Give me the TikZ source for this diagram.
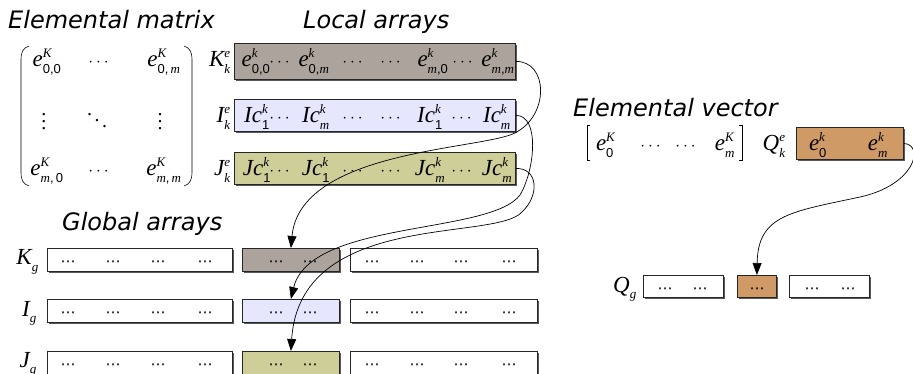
\documentclass[tikz,border=0pt]{standalone}
\usepackage{fontspec}
\usepackage{amsmath}
\setmainfont{Liberation Serif}
\newfontfamily\headfont{DejaVu Sans}
\newfontfamily\digfont{Liberation Sans}
\usetikzlibrary{arrows.meta,shadows}

\definecolor{kfill}{RGB}{172,164,156}
\definecolor{ifill}{RGB}{230,230,255}
\definecolor{jfill}{RGB}{206,206,153}
\definecolor{qfill}{RGB}{207,154,102}

% symbol with stacked superscript and subscript
\newcommand\baselt[1]{\mbox{\fontsize{23}{27}\selectfont\itshape #1}}
\newcommand\smalltx[1]{\mbox{\fontsize{13}{15}\selectfont #1}}
\newcommand\xit[1]{\textit{#1}}
\newcommand\xdg[1]{{\digfont #1}}
\newcommand\mysym[3]{$\baselt{#1}^{\smalltx{#2}}_{\smalltx{#3}}$}
\newcommand\dts{{\fontsize{18}{20}\selectfont$\cdots$}}
\newcommand\sdts{{\headfont\fontsize{15}{17}\selectfont ⋯}}
% larger vertical and diagonal dots for the matrix
\newcommand\bigvdots{\vbox{\baselineskip7pt\lineskiplimit0pt\kern2pt\hbox{.}\hbox{.}\hbox{.}}}
\newcommand\bigddots{\hbox{\raisebox{12pt}{.}\kern2.5pt\raisebox{6pt}{.}\kern2.5pt\raisebox{0pt}{.}}}

\tikzset{
  cell/.style={draw=black!85, line width=0.8pt, inner sep=0pt, anchor=north west,
    drop shadow={shadow xshift=2pt, shadow yshift=-2pt, fill=black!65, opacity=1}},
  txt/.style={inner sep=0pt, anchor=base, font=\fontsize{23}{27}\selectfont},
  head/.style={inner sep=0pt, anchor=base west, font=\headfont\itshape\fontsize{24}{28}\selectfont},
  conn/.style={line width=0.7pt, -{Triangle[length=12pt,width=9pt]}},
  brk/.style={line width=0.6pt}
}

\begin{document}
\begin{tikzpicture}[x=1pt,y=-1pt]
\useasboundingbox (0,0) rectangle (913,374);

% headings
\node[head] (hmat) at (8,29) {Elemental matrix};
\node[head] (hloc) at (303,29) {Local arrays};
\node[head] (hglob) at (62,230) {Global arrays};
\node[head] (hvec) at (573,117) {Elemental vector};

% elemental matrix
\draw[brk] (29,46) .. controls (23,48) and (21,52) .. (21,60) -- (21,172) .. controls (21,180) and (23,184) .. (29,186);
\draw[brk] (184,46) .. controls (190,48) and (192,52) .. (192,60) -- (192,172) .. controls (192,180) and (190,184) .. (184,186);
\node[txt] (m11) at (47,67) {\mysym{e}{\xit{K}}{\xdg{0,0}}};
\node[txt] (m12) at (100,67) {\dts};
\node[txt] (m13) at (164,67) {\mysym{e}{\xit{K}}{\xdg{0,}\,\xit{m}}};
\node[inner sep=0pt, font=\fontsize{20}{24}\selectfont] (m21) at (44,121) {\bigvdots};
\node[inner sep=0pt, font=\fontsize{20}{24}\selectfont] (m22) at (97,121) {\bigddots};
\node[inner sep=0pt, font=\fontsize{20}{24}\selectfont] (m23) at (160,121) {\bigvdots};
\node[txt] (m31) at (47,176) {\mysym{e}{\xit{K}}{\xit{m}\xdg{,}\,\xdg{0}}};
\node[txt] (m32) at (100,176) {\dts};
\node[txt] (m33) at (164,176) {\mysym{e}{\xit{K}}{\xit{m}\xdg{,}\,\xit{m}}};

% local array labels
\node[txt, anchor=base east] (lk) at (231,67) {\mysym{K}{\xit{e}}{\xit{k}}};
\node[txt, anchor=base east] (li) at (231,123) {\mysym{I}{\xit{e}}{\xit{k}}};
\node[txt, anchor=base east] (lj) at (231,176) {\mysym{J}{\xit{e}}{\xit{k}}};

% local arrays
\node[cell, fill=kfill, minimum width=281pt, minimum height=36pt] (Kl) at (234,43) {};
\node[cell, fill=ifill, minimum width=281pt, minimum height=32pt] (Il) at (234,99) {};
\node[cell, fill=jfill, minimum width=281pt, minimum height=32pt] (Jl) at (234,152) {};

\foreach \x/\t [count=\i] in {
  256/{\mysym{e}{\xit{k}}{\xdg{0,0}}}, 281/{\dts}, 314/{\mysym{e}{\xit{k}}{\xdg{0,}\xit{m}}},
  354/{\dts}, 392/{\dts}, 433/{\mysym{e}{\xit{k}}{\xit{m}\xdg{,0}}}, 464/{\dts},
  498/{\mysym{e}{\xit{k}}{\xit{m}\xdg{,}\xit{m}}}}
  \node[txt] (kl\i) at (\x,67) {\t};
\foreach \x/\t [count=\i] in {
  257/{\mysym{Ic}{\xit{k}}{\xdg{1}}}, 281/{\dts}, 316/{\mysym{Ic}{\xit{k}}{\xit{m}}},
  354/{\dts}, 392/{\dts}, 430/{\mysym{Ic}{\xit{k}}{\xdg{1}}}, 463/{\dts},
  497/{\mysym{Ic}{\xit{k}}{\xit{m}}}}
  \node[txt] (il\i) at (\x,123) {\t};
\foreach \x/\t [count=\i] in {
  257/{\mysym{Jc}{\xit{k}}{\xdg{1}}}, 281/{\dts}, 316/{\mysym{Jc}{\xit{k}}{\xdg{1}}},
  354/{\dts}, 392/{\dts}, 430/{\mysym{Jc}{\xit{k}}{\xit{m}}}, 463/{\dts},
  497/{\mysym{Jc}{\xit{k}}{\xit{m}}}}
  \node[txt] (jl\i) at (\x,176) {\t};

% global arrays
\node[txt, anchor=base east] (gk) at (39,265) {\mysym{K}{}{\xit{g}}};
\node[txt, anchor=base east] (gi) at (37,316) {\mysym{I}{}{\xit{g}}};
\node[txt, anchor=base east] (gj) at (37,367) {\mysym{J}{}{\xit{g}}};

\foreach \r/\y/\c in {K/248/kfill, I/299/ifill, J/351/jfill} {
  \node[cell, fill=white, minimum width=185pt, minimum height=23pt] (\r ga) at (47,\y) {};
  \node[cell, fill=\c, minimum width=97pt, minimum height=23pt] (\r gc) at (242,\y) {};
  \node[cell, fill=white, minimum width=187pt, minimum height=23pt] (\r gb) at (350,\y) {};
  \foreach \x [count=\i] in {68,113,158,205}
    \node[inner sep=0pt] (\r da\i) at (\x,\y+16) {\sdts};
  \foreach \x [count=\i] in {276,310}
    \node[inner sep=0pt] (\r dc\i) at (\x,\y+16) {\sdts};
  \foreach \x [count=\i] in {372,417,461,509}
    \node[inner sep=0pt] (\r db\i) at (\x,\y+16) {\sdts};
}

% elemental vector
\draw[brk] (590,125) -- (587,125) -- (587,160) -- (590,160);
\draw[brk] (739,125) -- (742,125) -- (742,160) -- (739,160);
\node[txt] (v1) at (606,151) {\mysym{e}{\xit{K}}{\xdg{0}}};
\node[txt] (v2) at (652,151) {\dts};
\node[txt] (v3) at (687,151) {\dts};
\node[txt] (v4) at (725,151) {\mysym{e}{\xit{K}}{\xit{m}}};
\node[txt, anchor=base east] (lq) at (786,151) {\mysym{Q}{\xit{e}}{\xit{k}}};
\node[cell, fill=qfill, minimum width=107pt, minimum height=32pt] (Ql) at (796,127) {};
\node[txt] (q1) at (818,151) {\mysym{e}{\xit{k}}{\xdg{0}}};
\node[txt] (q2) at (878,151) {\mysym{e}{\xit{k}}{\xit{m}}};

% global vector
\node[txt, anchor=base east] (gq) at (637,292) {\mysym{Q}{}{\xit{g}}};
\node[cell, fill=white, minimum width=80pt, minimum height=22pt] (Qga) at (643,275) {};
\node[cell, fill=qfill, minimum width=39pt, minimum height=22pt] (Qgc) at (737,275) {};
\node[cell, fill=white, minimum width=80pt, minimum height=22pt] (Qgb) at (789,275) {};
\node[inner sep=0pt] (qd1) at (665,290.5) {\sdts};
\node[inner sep=0pt] (qd2) at (700,290.5) {\sdts};
\node[inner sep=0pt] (qd3) at (757,290.5) {\sdts};
\node[inner sep=0pt] (qd4) at (812,290.5) {\sdts};
\node[inner sep=0pt] (qd5) at (848,290.5) {\sdts};

% scatter connectors
\draw[conn] (Kl.east) .. controls (548,61) and (550,115) .. (515,133)
  .. controls (480,150) and (300,150) .. (Kgc.north);
\draw[conn] (Il.east) .. controls (540,115) and (535,170) .. (520,195)
  .. controls (490,235) and (310,220) .. (Igc.north);
\draw[conn] (Jl.east) .. controls (538,168) and (540,195) .. (522,212)
  .. controls (495,242) and (300,210) .. (Jgc.north);
\draw[conn] (Ql.east) .. controls (925,145) and (915,185) .. (860,197)
  .. controls (790,212) and (758,215) .. (Qgc.north);
\end{tikzpicture}
\end{document}
